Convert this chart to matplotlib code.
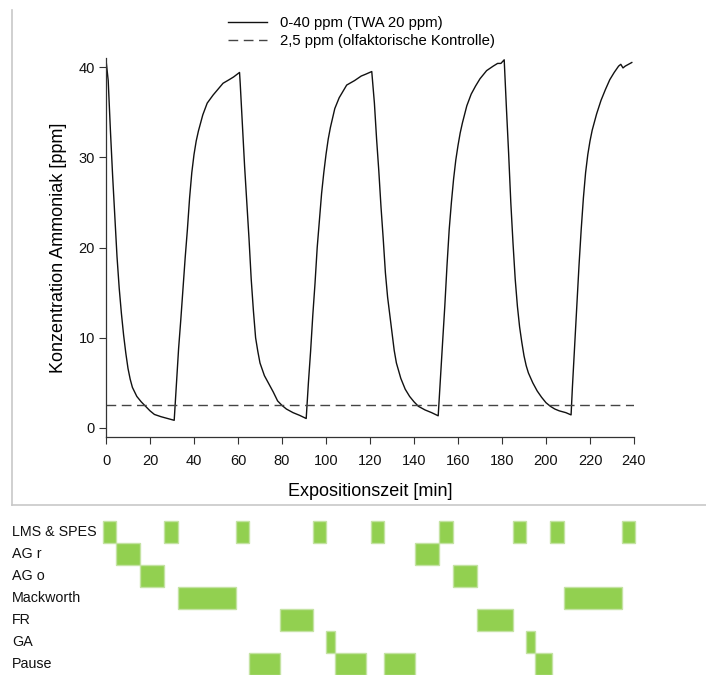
import matplotlib
matplotlib.use("Agg")
import matplotlib.pyplot as plt
from matplotlib.lines import Line2D

plt.rcParams['font.family'] = ['Liberation Sans', 'DejaVu Sans']

# Ammoniak-Konzentration
time_min = [0, 1, 2, 3, 4, 5, 6, 7, 8, 9, 10, 11, 12, 14, 16, 18, 20, 22, 25, 28, 31,
            32, 33, 34, 35, 36, 37, 38, 39, 40, 41, 42, 44, 46, 48.7, 53.2, 56, 58, 60.7,
            61, 62, 63, 64, 65, 66, 67, 68, 69, 70, 72, 74, 76, 78, 80, 82, 85, 88, 91,
            92, 93, 94, 95, 96, 97, 98, 99, 100, 101, 102, 104, 106, 109.4, 113, 116, 118, 120.8,
            122, 123, 124, 125, 126, 127, 128, 129, 130, 131, 132, 134, 136, 138, 140, 142, 145, 148, 151,
            152, 153, 154, 155, 156, 157, 158, 159, 160, 161, 162, 164, 166, 168, 170, 173, 176, 178, 179.5, 181,
            182, 183, 184, 185, 186, 187, 188, 189, 190, 191, 192, 194, 196, 198, 200, 202, 204, 206, 209, 211.4,
            212, 213, 214, 215, 216, 217, 218, 219, 220, 221, 223, 225, 227, 229, 231, 233, 234, 235, 236, 239]
conc_ppm = [40.8, 38.5, 33.0, 28.0, 23.5, 19.0, 15.5, 12.7, 10.3, 8.3, 6.6, 5.4, 4.5, 3.5, 2.9, 2.4, 1.9, 1.5, 1.25, 1.05, 0.85,
            4.8, 8.8, 12.0, 15.4, 18.9, 22.0, 25.5, 28.3, 30.3, 31.8, 32.9, 34.7, 36.0, 36.9, 38.2, 38.6, 38.9, 39.4,
            38.2, 33.5, 29.0, 25.0, 21.0, 16.5, 13.0, 10.0, 8.5, 7.2, 5.8, 4.9, 4.0, 3.0, 2.5, 2.1, 1.7, 1.4, 1.05,
            5.0, 8.5, 12.5, 16.0, 20.0, 23.0, 26.0, 28.3, 30.3, 32.0, 33.3, 35.4, 36.6, 38.0, 38.5, 39.0, 39.2, 39.5,
            36.0, 32.0, 28.5, 24.5, 21.0, 17.2, 14.5, 12.5, 10.5, 8.6, 7.2, 5.5, 4.3, 3.5, 2.9, 2.4, 2.0, 1.7, 1.35,
            5.5, 9.5, 13.5, 18.0, 22.0, 25.0, 27.6, 29.7, 31.3, 32.7, 33.8, 35.7, 37.0, 37.9, 38.7, 39.6, 40.1, 40.4, 40.4, 40.8,
            35.5, 30.5, 25.0, 20.5, 16.5, 13.5, 11.2, 9.5, 8.0, 6.9, 6.1, 5.0, 4.1, 3.4, 2.8, 2.4, 2.1, 1.9, 1.7, 1.45,
            4.5, 9.0, 13.5, 18.0, 22.0, 25.5, 28.3, 30.3, 31.8, 33.0, 34.8, 36.3, 37.5, 38.6, 39.4, 40.1, 40.3, 39.9, 40.1, 40.5]
control_ppm = 2.5
x_ticks = [0, 20, 40, 60, 80, 100, 120, 140, 160, 180, 200, 220, 240]
y_ticks = [0, 10, 20, 30, 40]

# Ablaufplan (Start, Dauer in min)
tasks = ["LMS & SPES", "AG r", "AG o", "Mackworth", "FR", "GA", "Pause"]
lms_start = [-1.5, 26.5, 59, 94, 120.5, 151.5, 185, 202, 234.5]
lms_dur = [6, 6, 6, 6, 6, 6, 6, 6, 6]
agr_start = [4.4, 140.5]
agr_dur = [11, 11]
ago_start = [15.5, 157.6]
ago_dur = [11, 11]
mack_start = [32.5, 208]
mack_dur = [26.5, 26.4]
fr_start = [79, 168.6]
fr_dur = [15.2, 16.3]
ga_start = [100.1, 190.9]
ga_dur = [4, 4]
pause_start = [64.9, 104.1, 126.4, 195]
pause_dur = [14.2, 14.1, 14.1, 7.5]

fig = plt.figure(figsize=(7.06, 6.75), dpi=100)
W, H = 706.0, 675.0

# grauer Rahmen um das Diagramm
fig.add_artist(Line2D([12 / W, 12 / W], [1 - 10 / H, 1 - 505 / H], color='#c8c8c8', lw=1.2,
                      transform=fig.transFigure))
fig.add_artist(Line2D([12 / W, 1.0], [1 - 505 / H, 1 - 505 / H], color='#c8c8c8', lw=1.2,
                      transform=fig.transFigure))

ax = fig.add_axes([106 / W, 1 - 437 / H, 528 / W, 379 / H])
ax.plot(time_min, conc_ppm, color='#111111', lw=1.0, label='0-40 ppm (TWA 20 ppm)')
ax.plot([0, 240], [control_ppm, control_ppm], color='#444444', lw=1.0, dashes=(7, 4),
        label='2,5 ppm (olfaktorische Kontrolle)')
ax.set_xlim(0, 240)
ax.set_ylim(-1, 41)
ax.set_xticks(x_ticks)
ax.set_yticks(y_ticks)
for s in ['top', 'right']:
    ax.spines[s].set_visible(False)
for s in ['left', 'bottom']:
    ax.spines[s].set_color('#333333')
    ax.spines[s].set_linewidth(0.9)
ax.tick_params(axis='x', direction='out', length=5, pad=7, labelsize=10.5, colors='#333333', labelcolor='#111111')
ax.tick_params(axis='y', direction='out', length=5, pad=3, labelsize=10.5, colors='#333333', labelcolor='#111111')
ax.set_xlabel('Expositionszeit [min]', fontsize=13, labelpad=11)
ax.set_ylabel('Konzentration Ammoniak [ppm]', fontsize=13, labelpad=8)

fig.legend(loc='upper left', bbox_to_anchor=(215 / W, 1 - 3 / H), bbox_transform=fig.transFigure,
           frameon=False, fontsize=10.7, handlelength=2.6, handletextpad=0.9, labelspacing=0.25)

# Ablaufplan unten
gx = fig.add_axes([106 / W, 0, 528 / W, 154 / H])
gx.set_xlim(0, 240)
gx.set_ylim(len(tasks), 0)
gx.axis('off')
rows = [(lms_start, lms_dur), (agr_start, agr_dur), (ago_start, ago_dur), (mack_start, mack_dur),
        (fr_start, fr_dur), (ga_start, ga_dur), (pause_start, pause_dur)]
for i, (starts, durs) in enumerate(rows):
    gx.barh([i + 0.5] * len(starts), durs, left=starts, height=1.0, color='#92d050',
            edgecolor='#c4e3a3', linewidth=1.0, clip_on=False)
    fig.text(12 / W, 1 - (521 + 11 + 22 * i) / H, tasks[i], fontsize=10.3, va='center', ha='left',
             color='#111111')

fig.savefig('out.png', dpi=100)
